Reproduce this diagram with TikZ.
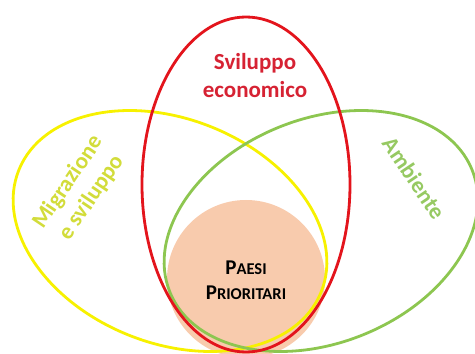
\documentclass[tikz,border=0pt]{standalone}
\usepackage{fontspec}
\setmainfont{Carlito}
\usepackage{xcolor}
\usetikzlibrary{positioning}

\definecolor{ecored}{HTML}{E3141C}
\definecolor{ecotext}{HTML}{D62233}
\definecolor{migline}{HTML}{F7F100}
\definecolor{migtext}{HTML}{D2DC3A}
\definecolor{ambline}{HTML}{8DC650}
\definecolor{ambtext}{HTML}{96C962}
\definecolor{paesifill}{HTML}{F8CBAD}

\begin{document}
\begin{tikzpicture}[x=1pt, y=1pt,
  ring/.style={line width=2.8pt},
  lbl/.style={font=\fontsize{23}{28}\selectfont\bfseries, align=center, inner sep=0pt}]
  \useasboundingbox (0,0) rectangle (475,354);
  \clip (0,0) rectangle (475,354);
  % priority countries in the middle
  \node[circle, fill=paesifill, minimum size=158pt, inner sep=0pt] (paesi) at (246,75) {};
  % the three areas
  \draw[ring, migline, rotate around={-22:(170,123)}] (170,123) ellipse (163 and 112);
  \draw[ring, ambline, rotate around={22:(321,123)}] (321,123) ellipse (163 and 112);
  \draw[ring, ecored] (246,169.5) ellipse (104 and 167.5);
  % labels
  \node[lbl, ecotext] (svil) at (255,278) {Sviluppo\\economico};
  \node[lbl, migtext, rotate=56] (migr) at (80,164) {Migrazione\\e sviluppo};
  \node[lbl, ambtext, rotate=-56] (amb) at (414,176) {Ambiente};
  \node[align=center, inner sep=0pt, font=\fontsize{16.5}{25}\selectfont\bfseries, text=black]
    (prio) at ([yshift=-1pt]paesi.center)
    {{\fontsize{21}{25}\selectfont P}AESI\\{\fontsize{21}{25}\selectfont P}RIORITARI};
\end{tikzpicture}
\end{document}
